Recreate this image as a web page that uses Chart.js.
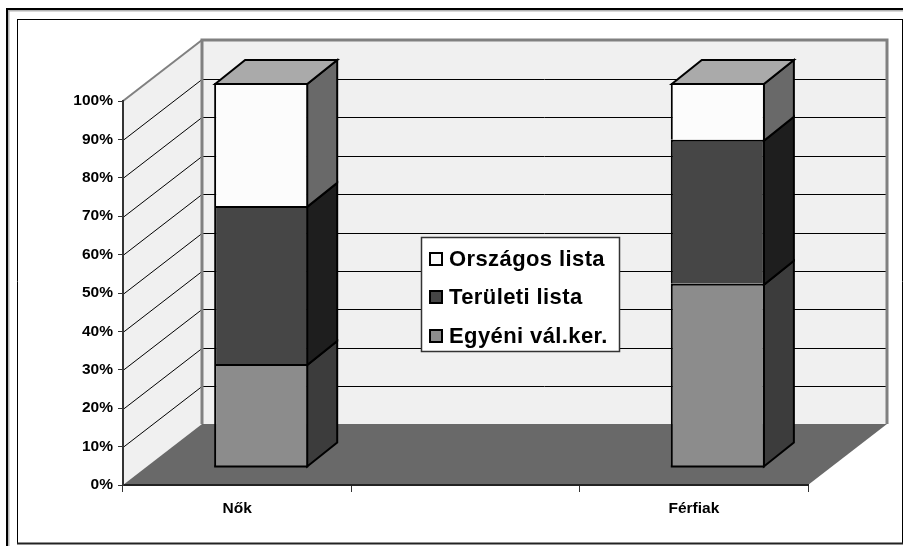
<!DOCTYPE html>
<html><head><meta charset="utf-8">
<style>html,body{margin:0;padding:0;background:#fff}canvas{display:block}</style>
<script src="https://cdn.jsdelivr.net/npm/chart.js@4"></script>
</head><body><canvas id="c" width="903" height="546"></canvas>
<script>
const categories = ['Nők', '', 'Férfiak'];
const egyeni = [26.8, null, 47.7];
const teruleti = [41.2, null, 37.5];
const orszagos = [32.0, null, 14.8];
const yTicks = [0,10,20,30,40,50,60,70,80,90,100];
const seriesNames = ['Egyéni vál.ker.', 'Területi lista', 'Országos lista'];
const faceColors = ['#8c8c8c', '#464646', '#fcfcfc'];
const sideColors = ['#3c3c3c', '#1e1e1e', '#696969'];
const topColor = '#aaaaaa', wallColor = '#f0f0f0', floorColor = '#696969';
const FONT = '"Liberation Sans", Arial, sans-serif';
// projection of the depth axis, in pixels
const DEPTH = {x: 79, y: -61, barShiftX: 24, barShiftY: -18, barX: 30, barY: -24};

function poly(ctx, pts, fill, stroke, lw) {
  ctx.beginPath();
  pts.forEach((p, i) => i ? ctx.lineTo(p[0], p[1]) : ctx.moveTo(p[0], p[1]));
  ctx.closePath();
  if (fill) { ctx.fillStyle = fill; ctx.fill(); }
  if (stroke) { ctx.strokeStyle = stroke; ctx.lineWidth = lw; ctx.lineJoin = 'miter'; ctx.stroke(); }
}
function seg(ctx, pts, color, lw) {
  ctx.strokeStyle = color; ctx.lineWidth = lw;
  ctx.beginPath();
  pts.forEach((p, i) => i ? ctx.lineTo(p[0], p[1]) : ctx.moveTo(p[0], p[1]));
  ctx.stroke();
}

const box3d = {
  id: 'box3d',
  beforeDraw(chart) {
    const {ctx, chartArea: a, scales: {y}} = chart;
    const dx = DEPTH.x, dy = DEPTH.y;
    ctx.save();
    // outer frame, open to the right and bottom of the page
    seg(ctx, [[8.5,546],[8.5,10.5],[903,10.5]], '#b4b4b4', 2);
    seg(ctx, [[7,546],[7,9],[903,9]], '#000', 2);
    // inner frame
    seg(ctx, [[17.5,19.5],[902.5,19.5]], '#000', 1);
    seg(ctx, [[17.5,19],[17.5,544]], '#000', 1);
    seg(ctx, [[902.5,19],[902.5,544]], '#000', 1);
    seg(ctx, [[17,543.5],[903,543.5]], '#222', 2);
    // walls
    poly(ctx, [[a.left,a.top],[a.left+dx,a.top+dy],[a.left+dx,a.bottom+dy],[a.left,a.bottom]], wallColor);
    poly(ctx, [[a.left+dx,a.top+dy],[a.right+dx,a.top+dy],[a.right+dx,a.bottom+dy],[a.left+dx,a.bottom+dy]], wallColor);
    // gridlines
    yTicks.slice(1, -1).forEach(v => {
      const py = Math.round(y.getPixelForValue(v) + 0.5) + 0.5;
      seg(ctx, [[a.left, py],[a.left+dx, py+dy],[a.right+dx, py+dy]], '#000', 1);
    });
    // wall outlines
    seg(ctx, [[a.left,a.top],[a.left+dx,a.top+dy]], '#808080', 2);
    seg(ctx, [[a.left+dx,a.bottom+dy],[a.left+dx,a.top+dy],[a.right+dx,a.top+dy],[a.right+dx,a.bottom+dy]], '#808080', 3);
    // floor
    poly(ctx, [[a.left,a.bottom],[a.left+dx,a.bottom+dy],[a.right+dx,a.bottom+dy],[a.right,a.bottom]], floorColor);
    ctx.restore();
  },
  beforeDatasetsDraw(chart) {
    const {ctx} = chart;
    ctx.save();
    ctx.translate(DEPTH.barShiftX, DEPTH.barShiftY);
    chart.data.datasets.forEach((ds, di) => {
      chart.getDatasetMeta(di).data.forEach((bar, i) => {
        if (ds.data[i] == null) return;
        const p = bar.getProps(['x','y','base','width'], true);
        const l = p.x - p.width/2 + 1, r = p.x + p.width/2 - 1, t = p.y + 1;
        const b = di === 0 ? p.base : p.base + 1;
        poly(ctx, [[r,t],[r+DEPTH.barX,t+DEPTH.barY],[r+DEPTH.barX,b+DEPTH.barY],[r,b]], sideColors[di], '#000', 2);
        if (di === chart.data.datasets.length - 1) {
          poly(ctx, [[l,t],[l+DEPTH.barX,t+DEPTH.barY],[r+DEPTH.barX,t+DEPTH.barY],[r,t]], topColor, '#000', 2);
        }
      });
    });
  },
  afterDatasetsDraw(chart) {
    const {ctx} = chart;
    // bottom edge of each box, centred on the base of the stack
    chart.getDatasetMeta(0).data.forEach((bar, i) => {
      if (egyeni[i] == null) return;
      const p = bar.getProps(['x','base','width'], true);
      seg(ctx, [[p.x - p.width/2, p.base],[p.x + p.width/2, p.base]], '#000', 2);
    });
    ctx.restore();
  },
  afterDraw(chart) {
    const {ctx} = chart;
    ctx.save();
    const L = {x: 421, y: 237, w: 198, h: 114};
    ctx.fillStyle = '#fff'; ctx.fillRect(L.x, L.y, L.w, L.h);
    ctx.strokeStyle = '#333'; ctx.lineWidth = 1.5; ctx.strokeRect(L.x+.5, L.y+.5, L.w, L.h);
    ctx.font = 'bold 22px ' + FONT;
    ctx.letterSpacing = '0.4px';
    ctx.textBaseline = 'middle';
    [2,1,0].forEach((s, row) => {
      const cy = Math.round(258.5 + row * 38.5);
      ctx.fillStyle = faceColors[s];
      ctx.fillRect(430, cy-6, 12, 12);
      ctx.strokeStyle = '#000'; ctx.lineWidth = 2;
      ctx.strokeRect(430, cy-6, 12, 12);
      ctx.fillStyle = '#000';
      ctx.fillText(seriesNames[s], 449, cy+1);
    });
    ctx.restore();
  }
};

const mk = (i, data) => ({label: seriesNames[i], data, backgroundColor: faceColors[i], borderColor: '#000', borderWidth: 2, borderSkipped: 'bottom', clip: false, barPercentage: 0.412, categoryPercentage: 1, stack: 's'});

new Chart(document.getElementById('c'), {
  type: 'bar',
  data: {labels: categories, datasets: [mk(0, egyeni), mk(1, teruleti), mk(2, orszagos)]},
  plugins: [box3d],
  options: {
    responsive: false, animation: false,
    layout: {padding: {top: 101, right: 95, left: 0, bottom: 0}},
    plugins: {legend: {display: false}, tooltip: {enabled: false}, title: {display: false}},
    scales: {
      x: {
        stacked: true,
        afterFit(s) { s.height = 61; },
        border: {display: true, color: '#222', width: 2},
        grid: {display: true, drawOnChartArea: false, drawTicks: true, tickLength: 7, color: '#333', offset: true},
        ticks: {color: '#000', font: {family: FONT, size: 15.5, weight: 'bold'}, padding: 7, maxRotation: 0, autoSkip: false}
      },
      y: {
        stacked: true, min: 0, max: 100,
        afterFit(s) { s.width = 123; },
        afterBuildTicks(s) { s.ticks = yTicks.map(v => ({value: v})); },
        border: {display: true, color: '#333', width: 2},
        grid: {display: true, drawOnChartArea: false, drawTicks: true, tickLength: 5, color: '#333'},
        ticks: {color: '#000', font: {family: FONT, size: 15.5, weight: 'bold'}, padding: 5, callback: v => v + '%'}
      }
    }
  }
});
</script></body></html>
